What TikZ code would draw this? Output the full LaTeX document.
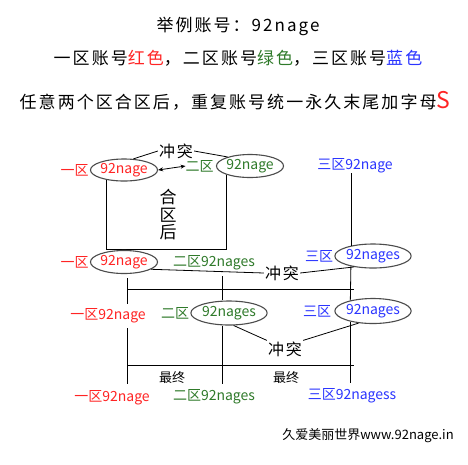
\documentclass[tikz,border=0pt]{standalone}
\usepackage{fontspec}
\setmainfont{Noto Sans CJK SC}
\newfontfamily\hand[LetterSpace=12]{Noto Sans CJK SC}
\usetikzlibrary{shapes.geometric,arrows.meta}
\definecolor{zred}{HTML}{FF2424}
\definecolor{zgreen}{HTML}{2F7A2A}
\definecolor{zblue}{HTML}{2B35FF}
\tikzset{
  lbl/.style={inner sep=0pt, font=\fontsize{14}{16}\selectfont},
  acc/.style={ellipse, draw=black!70, line width=1.1pt, inner sep=0pt,
    minimum width=55pt, minimum height=22pt, font=\fontsize{14}{16}\selectfont},
  head/.style={inner sep=0pt, font=\fontsize{17}{20}\selectfont\hand},
  conflict/.style={inner sep=1pt, font=\fontsize{16}{18}\selectfont\hand},
  final/.style={inner sep=0pt, font=\fontsize{13}{15}\selectfont},
  wire/.style={line width=0.8pt, draw=black},
}
\begin{document}
\begin{tikzpicture}[x=1pt,y=-1pt]
\useasboundingbox[fill=white] (0,0) rectangle (468,464);

% headings
\node[head] (t1) at (238,26) {举例账号：92nage};
\node[head] (t2) at (238,58) {一区账号\textcolor{zred}{红色}，二区账号\textcolor{zgreen}{绿色}，三区账号\textcolor{zblue}{蓝色}};
\node[head] (t3) at (235,101) {任意两个区合区后，重复账号统一永久末尾加字母{\fontsize{23}{24}\selectfont\color{zred}S}};

% column / row coordinates
\coordinate (ca) at (127,289);
\coordinate (cc) at (354,289);
\coordinate (da) at (127,365);
\coordinate (db) at (222,365);
\coordinate (dc) at (354,365);

% row 1
\node[acc, text=zred] (r1n) at (124,170) {92nage};
\node[lbl, text=zred, anchor=east] (r1z) at ([xshift=-1pt]r1n.west) {一区};
\node[acc, text=zgreen, minimum width=51pt, minimum height=23pt] (g1n) at (250,166) {92nage};
\node[lbl, text=zgreen, anchor=east] (g1z) at ([xshift=-2pt]g1n.west) {二区};
\node[lbl, text=zblue] (b1) at (355,166) {三区92nage};
\node[conflict] (c1) at (176,151) {冲突};
\draw[{Stealth[length=5pt,width=4pt]}-{Stealth[length=5pt,width=4pt]}, line width=0.8pt] (r1n.east) -- (g1z.west);
\draw[wire] (r1n.50) -- (c1.west);
\draw[wire] (c1.east) -- (g1n.158);
\draw[wire] (r1n.-150) -- ++(0,69) -| (g1n.-160);
\node[head, align=center, font=\fontsize{17}{17.5}\selectfont] (merge) at (168,215) {合\\区\\后};

% row 2
\node[acc, text=zred, minimum height=23pt] (r2n) at (124,262) {92nage};
\node[lbl, text=zred, anchor=east] (r2z) at ([xshift=-1pt]r2n.west) {一区};
\node[lbl, text=zgreen] (g2) at (214,263) {二区92nages};
\node[acc, text=zblue, minimum width=57pt, minimum height=24pt] (b2n) at (373,256) {92nages};
\node[lbl, text=zblue, anchor=east] (b2z) at ([xshift=-1pt]b2n.west) {三区};
\draw[wire] (b1.south -| b2n.155) -- (b2n.155);
\node[conflict] (c2) at (282,273) {冲突};
\draw[wire] (r2n.-15) -- (c2.west);
\draw[wire] (c2.east) -- (b2n.-150);

% row 3
\node[lbl, text=zred] (r3) at (108,316) {一区92nage};
\node[acc, text=zgreen, minimum width=58pt, minimum height=24pt] (g3n) at (229,313) {92nages};
\node[lbl, text=zgreen, anchor=east] (g3z) at ([xshift=-1pt]g3n.west) {二区};
\node[acc, text=zblue, minimum width=57pt, minimum height=25pt] (b3n) at (373,311) {92nages};
\node[lbl, text=zblue, anchor=east] (b3z) at ([xshift=-3pt]b3n.west) {三区};

% links row 2 -> row 3
\draw[wire, shorten <=4pt, shorten >=5pt] (r2n.south -| ca) -- (r3.north -| ca);
\draw[wire, shorten <=6pt] (g2.south -| db) -- (g3n.north -| db);
\draw[wire] (b2n.-155) -- (b3n.155);
\draw[wire] (ca) -- (cc);

\node[conflict] (c3) at (285,349) {冲突};
\draw[wire] (g3n.-70) -- (c3.north west);
\draw[wire] (c3.north east) -- (b3n.-140);

% row 4
\node[lbl, text=zred] (r4) at (112,398) {一区92nage};
\node[lbl, text=zgreen] (g4) at (214,397) {二区92nages};
\node[lbl, text=zblue] (b4) at (352,396) {三区92nagess};

% links row 3 -> row 4
\draw[wire, shorten <=5pt, shorten >=7pt] (r3.south -| da) -- (r4.north -| da);
\draw[wire, shorten >=6pt] (g3n.south -| db) -- (g4.north -| db);
\draw[wire, shorten >=6pt] (b3n.-155) -- (b4.north -| b3n.-155);
\draw[wire] (da) -- (dc);
\node[final] (f1) at (172,378) {最终};
\node[final] (f2) at (286,378) {最终};

% footer
\node[final] (ft) at (368,436) {久爱美丽世界www.92nage.in};
\end{tikzpicture}
\end{document}
